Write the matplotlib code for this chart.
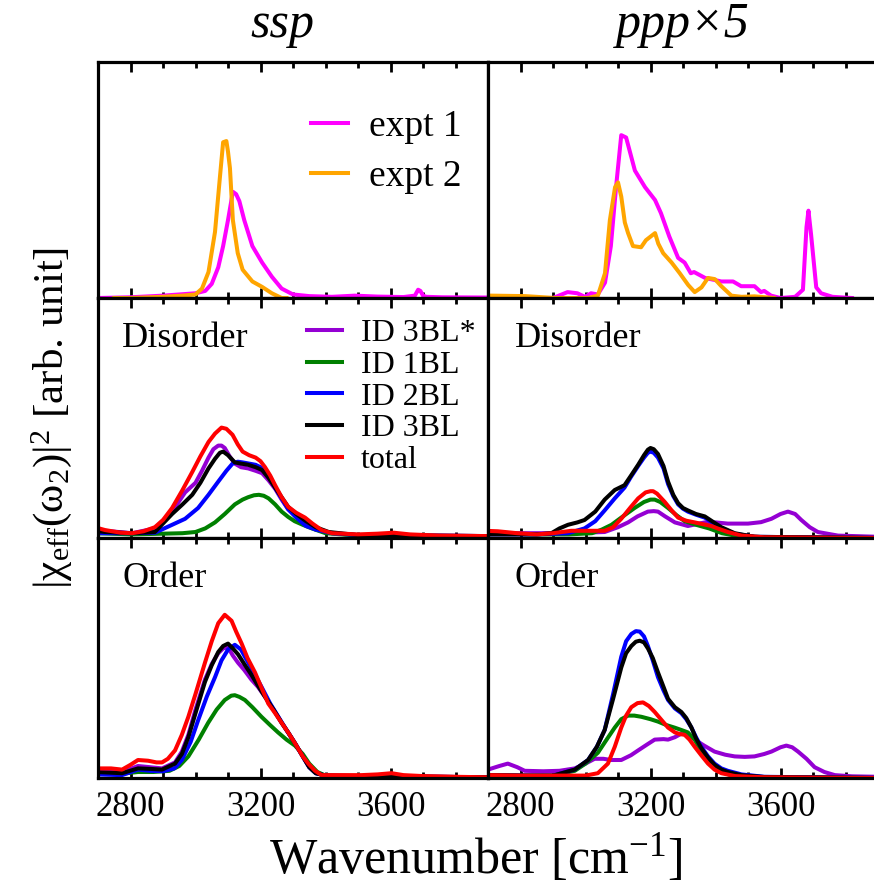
import matplotlib
matplotlib.use("Agg")
import matplotlib.pyplot as plt
from matplotlib.ticker import MultipleLocator

plt.rcParams['font.family'] = ['Liberation Serif', 'DejaVu Serif']
plt.rcParams['mathtext.fontset'] = 'custom'
plt.rcParams['mathtext.rm'] = 'Liberation Serif'
plt.rcParams['mathtext.it'] = 'Liberation Serif:italic'

# ---- experiment, ssp ----
ssp_exp1_x = [2700, 2800, 2900, 2950, 3000, 3030, 3050, 3070, 3085, 3100, 3115, 3125, 3135, 3150, 3175,
              3205, 3235, 3265, 3300, 3350, 3420, 3490, 3560, 3640, 3675, 3685, 3692, 3700, 3710, 3760, 3900]
ssp_exp1_y = [0.0, 0.003, 0.01, 0.015, 0.02, 0.03, 0.06, 0.13, 0.22, 0.33, 0.45, 0.44, 0.41, 0.33, 0.22,
              0.15, 0.09, 0.04, 0.015, 0.008, 0.005, 0.01, 0.006, 0.004, 0.01, 0.035, 0.03, 0.01, 0.005, 0.003, 0.002]
ssp_exp2_x = [2750, 2800, 2900, 2960, 3000, 3020, 3040, 3060, 3075, 3085, 3095, 3100, 3106, 3115, 3130,
              3145, 3175, 3205, 3235, 3265, 3280]
ssp_exp2_y = [0.0, 0.0, 0.005, 0.01, 0.015, 0.04, 0.11, 0.28, 0.51, 0.66, 0.665, 0.62, 0.55, 0.33, 0.19,
              0.12, 0.07, 0.047, 0.02, 0.0, 0.0]

# ---- experiment, ppp (x5) ----
ppp_exp1_x = [2880, 2900, 2945, 2975, 2998, 3017, 3038, 3060, 3078, 3094, 3110, 3125, 3152, 3183, 3214,
              3232, 3258, 3285, 3305, 3324, 3334, 3368, 3418, 3454, 3479, 3520, 3540, 3550, 3571, 3600,
              3645, 3669, 3680, 3686, 3694, 3710, 3725, 3760, 3820]
ppp_exp1_y = [0.0, 0.0, 0.025, 0.02, 0.005, 0.02, 0.015, 0.065, 0.22, 0.47, 0.69, 0.68, 0.54, 0.47, 0.415,
              0.36, 0.26, 0.17, 0.15, 0.105, 0.11, 0.085, 0.07, 0.07, 0.05, 0.05, 0.025, 0.03, 0.01, 0.0,
              0.005, 0.035, 0.3, 0.37, 0.27, 0.045, 0.02, 0.005, 0.0]
ppp_exp2_x = [2710, 2814, 2906, 3008, 3038, 3060, 3075, 3091, 3100, 3110, 3121, 3131, 3146, 3171, 3186,
              3214, 3224, 3239, 3265, 3290, 3316, 3336, 3357, 3377, 3398, 3418, 3449, 3480, 3520, 3580]
ppp_exp2_y = [0.01, 0.008, 0.0, 0.0, 0.01, 0.105, 0.33, 0.47, 0.49, 0.43, 0.32, 0.275, 0.22, 0.215, 0.245,
              0.275, 0.23, 0.19, 0.15, 0.105, 0.055, 0.025, 0.045, 0.085, 0.08, 0.05, 0.01, 0.005, 0.007, 0.0]

# ---- ssp, disorder ----
ssp_dis_3bls_x = [2690, 2722, 2805, 2875, 2928, 2968, 3000, 3020, 3040, 3055, 3070, 3080, 3090, 3105, 3121,
                  3140, 3162, 3185, 3205, 3225, 3245, 3265, 3285, 3310, 3337, 3370, 3420, 3500, 3900]
ssp_dis_3bls_y = [0.035, 0.03, 0.02, 0.04, 0.11, 0.19, 0.23, 0.28, 0.335, 0.37, 0.385, 0.385, 0.375, 0.34, 0.31,
                  0.295, 0.29, 0.28, 0.27, 0.24, 0.205, 0.16, 0.12, 0.09, 0.065, 0.035, 0.02, 0.012, 0.008]
ssp_dis_1bl_x = [2690, 2805, 2900, 2960, 3000, 3030, 3060, 3090, 3121, 3145, 3162, 3180, 3195, 3210, 3225,
                 3245, 3265, 3285, 3305, 3330, 3358, 3400, 3500, 3900]
ssp_dis_1bl_y = [0.02, 0.015, 0.018, 0.02, 0.025, 0.04, 0.065, 0.1, 0.14, 0.16, 0.17, 0.178, 0.18, 0.176, 0.165,
                 0.14, 0.11, 0.088, 0.07, 0.055, 0.04, 0.02, 0.01, 0.005]
ssp_dis_2bl_x = [2690, 2805, 2875, 2928, 2968, 3008, 3040, 3070, 3095, 3114, 3130, 3145, 3165, 3185, 3200,
                 3214, 3230, 3245, 3265, 3285, 3310, 3340, 3370, 3420, 3500, 3900]
ssp_dis_2bl_y = [0.02, 0.02, 0.022, 0.055, 0.08, 0.125, 0.18, 0.235, 0.28, 0.31, 0.318, 0.315, 0.31, 0.305, 0.295,
                 0.285, 0.25, 0.21, 0.165, 0.12, 0.085, 0.05, 0.035, 0.02, 0.012, 0.008]
ssp_dis_3bl_x = [2690, 2722, 2805, 2875, 2928, 2960, 2990, 3015, 3040, 3060, 3075, 3085, 3100, 3121, 3140,
                 3162, 3185, 3205, 3225, 3245, 3265, 3285, 3310, 3340, 3370, 3410, 3500, 3900]
ssp_dis_3bl_y = [0.03, 0.025, 0.02, 0.025, 0.1, 0.14, 0.18, 0.23, 0.29, 0.33, 0.355, 0.36, 0.345, 0.315, 0.31,
                 0.305, 0.295, 0.283, 0.25, 0.21, 0.17, 0.13, 0.1, 0.07, 0.045, 0.025, 0.012, 0.008]
ssp_dis_tot_x = [2690, 2722, 2770, 2805, 2840, 2875, 2900, 2928, 2960, 2990, 3015, 3040, 3060, 3080, 3095,
                 3114, 3130, 3145, 3165, 3185, 3200, 3214, 3230, 3245, 3265, 3285, 3310, 3337, 3360, 3388,
                 3420, 3500, 3560, 3610, 3660, 3750, 3900]
ssp_dis_tot_y = [0.045, 0.033, 0.022, 0.02, 0.028, 0.045, 0.075, 0.125, 0.2, 0.275, 0.34, 0.4, 0.435, 0.46, 0.455,
                 0.43, 0.39, 0.36, 0.345, 0.335, 0.32, 0.295, 0.26, 0.22, 0.17, 0.13, 0.105, 0.085, 0.06, 0.033,
                 0.02, 0.015, 0.018, 0.022, 0.015, 0.01, 0.008]

# ---- ppp, disorder ----
ppp_dis_3bls_x = [2700, 2850, 2950, 3059, 3100, 3131, 3160, 3192, 3210, 3223, 3245, 3275, 3315, 3367, 3400,
                  3438, 3500, 3540, 3572, 3600, 3623, 3645, 3664, 3690, 3715, 3777, 3900]
ppp_dis_3bls_y = [0.02, 0.02, 0.02, 0.025, 0.045, 0.065, 0.09, 0.11, 0.112, 0.11, 0.09, 0.065, 0.05, 0.065, 0.065,
                  0.06, 0.06, 0.066, 0.08, 0.1, 0.11, 0.1, 0.075, 0.045, 0.025, 0.01, 0.005]
ppp_dis_1bl_x = [2700, 2850, 2950, 3020, 3050, 3080, 3110, 3151, 3180, 3200, 3213, 3230, 3254, 3280, 3305,
                 3340, 3380, 3420, 3460, 3550, 3900]
ppp_dis_1bl_y = [0.02, 0.015, 0.015, 0.02, 0.035, 0.055, 0.085, 0.125, 0.15, 0.16, 0.16, 0.15, 0.125, 0.095, 0.07,
                 0.055, 0.04, 0.02, 0.01, 0.003, 0.0]
ppp_dis_2bl_x = [2700, 2850, 2946, 2997, 3030, 3059, 3090, 3120, 3140, 3162, 3180, 3192, 3200, 3210, 3223,
                 3240, 3254, 3270, 3285, 3300, 3315, 3340, 3367, 3395, 3418, 3459, 3520, 3900]
ppp_dis_2bl_y = [0.015, 0.015, 0.02, 0.04, 0.07, 0.115, 0.165, 0.21, 0.255, 0.3, 0.335, 0.355, 0.36, 0.355, 0.335,
                 0.29, 0.225, 0.175, 0.14, 0.122, 0.11, 0.097, 0.085, 0.06, 0.042, 0.018, 0.005, 0.0]
ppp_dis_3bl_x = [2700, 2760, 2850, 2895, 2920, 2946, 2975, 2997, 3030, 3059, 3090, 3120, 3140, 3162, 3180,
                 3192, 3200, 3210, 3223, 3240, 3254, 3270, 3285, 3300, 3315, 3340, 3367, 3395, 3418, 3459,
                 3520, 3900]
ppp_dis_3bl_y = [0.015, 0.015, 0.015, 0.02, 0.04, 0.055, 0.065, 0.075, 0.11, 0.16, 0.2, 0.22, 0.26, 0.305, 0.345,
                 0.368, 0.375, 0.37, 0.35, 0.3, 0.235, 0.18, 0.145, 0.125, 0.115, 0.1, 0.09, 0.065, 0.045, 0.02,
                 0.005, 0.0]
ppp_dis_tot_x = [2690, 2730, 2790, 2850, 2900, 2956, 3000, 3059, 3085, 3110, 3140, 3162, 3185, 3200, 3208,
                 3220, 3244, 3265, 3285, 3310, 3336, 3360, 3387, 3410, 3438, 3480, 3550, 3900]
ppp_dis_tot_y = [0.03, 0.028, 0.02, 0.015, 0.02, 0.03, 0.03, 0.03, 0.045, 0.08, 0.13, 0.165, 0.19, 0.195, 0.195,
                 0.185, 0.15, 0.115, 0.085, 0.072, 0.065, 0.058, 0.05, 0.038, 0.025, 0.01, 0.003, 0.0]

# ---- ssp, order ----
ssp_ord_x = [2690, 2774, 2823, 2860, 2897, 2937, 2958, 2978, 3000, 3029, 3050, 3070, 3085, 3100, 3115,
             3131, 3150, 3172, 3192, 3213, 3240, 3265, 3285, 3306, 3330, 3350, 3370, 3400, 3500, 3900]
ssp_ord_3bls_y = [0.03, 0.025, 0.05, 0.045, 0.04, 0.065, 0.11, 0.18, 0.285, 0.41, 0.475, 0.52, 0.54, 0.545, 0.51,
                  0.48, 0.45, 0.41, 0.38, 0.34, 0.285, 0.23, 0.19, 0.145, 0.09, 0.045, 0.02, 0.01, 0.008, 0.003]
ssp_ord_3bl_y = [0.025, 0.02, 0.04, 0.038, 0.035, 0.06, 0.1, 0.17, 0.27, 0.4, 0.47, 0.525, 0.55, 0.56, 0.54,
                 0.515, 0.475, 0.43, 0.385, 0.34, 0.285, 0.23, 0.19, 0.145, 0.09, 0.045, 0.02, 0.01, 0.008, 0.003]
ssp_ord_1bl_x = [2690, 2774, 2823, 2870, 2920, 2950, 2978, 3010, 3039, 3065, 3090, 3110, 3121, 3135, 3152,
                 3175, 3203, 3230, 3254, 3280, 3306, 3330, 3350, 3375, 3400, 3500, 3900]
ssp_ord_1bl_y = [0.02, 0.018, 0.025, 0.025, 0.03, 0.05, 0.09, 0.16, 0.23, 0.285, 0.325, 0.343, 0.345, 0.338, 0.325,
                 0.295, 0.255, 0.22, 0.19, 0.16, 0.135, 0.1, 0.06, 0.025, 0.01, 0.006, 0.002]
ssp_ord_2bl_x = [2690, 2774, 2823, 2860, 2900, 2935, 2958, 2985, 3008, 3035, 3060, 3080, 3100, 3121, 3140,
                 3152, 3175, 3203, 3230, 3255, 3280, 3306, 3330, 3350, 3370, 3400, 3500, 3900]
ssp_ord_2bl_y = [0.015, 0.012, 0.035, 0.03, 0.028, 0.04, 0.075, 0.15, 0.24, 0.34, 0.42, 0.49, 0.535, 0.555, 0.535,
                 0.505, 0.45, 0.38, 0.31, 0.255, 0.2, 0.145, 0.09, 0.045, 0.02, 0.01, 0.008, 0.003]
ssp_ord_tot_x = [2690, 2740, 2774, 2800, 2823, 2854, 2880, 2897, 2915, 2937, 2958, 2978, 3000, 3029, 3050,
                 3070, 3090, 3111, 3125, 3142, 3160, 3183, 3205, 3224, 3245, 3265, 3285, 3306, 3330, 3347,
                 3368, 3388, 3450, 3511, 3560, 3603, 3640, 3700, 3800, 3900]
ssp_ord_tot_y = [0.04, 0.04, 0.035, 0.055, 0.075, 0.072, 0.065, 0.065, 0.08, 0.115, 0.18, 0.255, 0.35, 0.48, 0.57,
                 0.645, 0.68, 0.655, 0.61, 0.56, 0.5, 0.44, 0.37, 0.31, 0.27, 0.23, 0.19, 0.145, 0.09, 0.06,
                 0.03, 0.012, 0.012, 0.012, 0.015, 0.02, 0.012, 0.008, 0.005, 0.003]

# ---- ppp, order ----
ppp_ord_3bls_x = [2700, 2735, 2761, 2790, 2813, 2870, 2920, 2967, 3000, 3028, 3055, 3079, 3110, 3140, 3162,
                  3190, 3213, 3240, 3254, 3275, 3295, 3315, 3336, 3365, 3397, 3430, 3459, 3490, 3520, 3550,
                  3572, 3600, 3618, 3636, 3654, 3680, 3705, 3735, 3767, 3820, 3900]
ppp_ord_3bls_y = [0.035, 0.05, 0.06, 0.045, 0.03, 0.028, 0.03, 0.04, 0.06, 0.08, 0.08, 0.075, 0.075, 0.095, 0.115,
                  0.14, 0.16, 0.162, 0.16, 0.17, 0.185, 0.18, 0.16, 0.135, 0.11, 0.097, 0.09, 0.088, 0.09, 0.1,
                  0.11, 0.128, 0.135, 0.128, 0.11, 0.08, 0.045, 0.025, 0.012, 0.007, 0.005]
ppp_ord_1bl_x = [2700, 2800, 2900, 2967, 3000, 3038, 3065, 3090, 3110, 3131, 3150, 3172, 3200, 3223, 3250,
                 3274, 3295, 3315, 3336, 3356, 3380, 3408, 3440, 3500, 3900]
ppp_ord_1bl_y = [0.012, 0.01, 0.01, 0.03, 0.06, 0.105, 0.16, 0.21, 0.245, 0.26, 0.26, 0.255, 0.245, 0.235, 0.22,
                 0.21, 0.2, 0.19, 0.16, 0.11, 0.07, 0.035, 0.015, 0.005, 0.0]
ppp_ord_x = [2700, 2800, 2900, 2967, 3008, 3035, 3059, 3085, 3110, 3125, 3141, 3155, 3167, 3180, 3192,
             3207, 3223, 3240, 3254, 3275, 3295, 3310, 3326, 3340, 3356, 3377, 3397, 3418, 3438, 3480,
             3550, 3900]
ppp_ord_2bl_y = [0.012, 0.01, 0.01, 0.035, 0.075, 0.13, 0.2, 0.35, 0.505, 0.57, 0.6, 0.612, 0.61, 0.59, 0.55,
                 0.49, 0.42, 0.365, 0.325, 0.29, 0.27, 0.245, 0.21, 0.17, 0.13, 0.09, 0.06, 0.04, 0.03, 0.015,
                 0.005, 0.0]
ppp_ord_3bl_y = [0.012, 0.01, 0.01, 0.035, 0.075, 0.13, 0.2, 0.33, 0.46, 0.52, 0.55, 0.568, 0.572, 0.565, 0.54,
                 0.5, 0.44, 0.38, 0.33, 0.295, 0.275, 0.25, 0.21, 0.165, 0.125, 0.085, 0.055, 0.035, 0.025, 0.012,
                 0.004, 0.0]
ppp_ord_tot_x = [2700, 2800, 2900, 3000, 3038, 3069, 3090, 3110, 3125, 3141, 3160, 3177, 3195, 3213, 3235,
                 3254, 3275, 3290, 3305, 3320, 3336, 3356, 3377, 3397, 3418, 3460, 3550, 3900]
ppp_ord_tot_y = [0.012, 0.01, 0.01, 0.01, 0.02, 0.06, 0.13, 0.21, 0.26, 0.295, 0.312, 0.315, 0.3, 0.275, 0.24,
                 0.21, 0.19, 0.183, 0.18, 0.16, 0.13, 0.095, 0.06, 0.035, 0.02, 0.008, 0.003, 0.0]

col_titles = ['ssp', 'ppp×5']
row_labels = [None, 'Disorder', 'Order']
exp_labels = ['expt 1', 'expt 2']
sim_labels = ['ID 3BL*', 'ID 1BL', 'ID 2BL', 'ID 3BL', 'total']

exp_colors = ['#ff00ff', '#ffa500']
sim_colors = ['#9400d3', '#008000', '#0000ff', '#000000', '#ff0000']

W, H = 874, 888
fig = plt.figure(figsize=(W / 100, H / 100), dpi=100)

col_left = [98, 488]
col_width = 390
row_top = [62, 298, 538]
row_bottom = [298, 538, 778]

axes = [[None, None], [None, None], [None, None]]
for r in range(3):
    for c in range(2):
        ax = fig.add_axes([col_left[c] / W, 1 - row_bottom[r] / H,
                           col_width / W, (row_bottom[r] - row_top[r]) / H])
        ax.set_xlim(2700, 3900)
        ax.set_ylim(0, 1)
        ax.xaxis.set_major_locator(MultipleLocator(400))
        ax.xaxis.set_minor_locator(MultipleLocator(100))
        ax.tick_params(axis='x', which='both', direction='in', top=True, bottom=True,
                       width=2.0, labelsize=25, pad=9)
        ax.tick_params(axis='x', which='major', length=7)
        ax.tick_params(axis='x', which='minor', length=4)
        ax.set_yticks([])
        if r < 2:
            ax.tick_params(axis='x', labelbottom=False)
        for s in ax.spines.values():
            s.set_linewidth(2.3)
        axes[r][c] = ax

lw = 2.9

# experiment row
for c, curves in enumerate([[(ssp_exp1_x, ssp_exp1_y), (ssp_exp2_x, ssp_exp2_y)],
                            [(ppp_exp1_x, ppp_exp1_y), (ppp_exp2_x, ppp_exp2_y)]]):
    ax = axes[0][c]
    for (x, y), col, lab in zip(curves, exp_colors, exp_labels):
        ax.plot(x, y, color=col, lw=lw, label=lab)

axes[0][0].legend(loc='upper left', bbox_to_anchor=(0.545, 0.80), frameon=False, fontsize=27,
                  handlelength=1.0, handletextpad=0.55, labelspacing=0.42, borderpad=0, borderaxespad=0)

# simulated rows
sim_sets = {
    (1, 0): [(ssp_dis_3bls_x, ssp_dis_3bls_y), (ssp_dis_1bl_x, ssp_dis_1bl_y), (ssp_dis_2bl_x, ssp_dis_2bl_y),
             (ssp_dis_3bl_x, ssp_dis_3bl_y), (ssp_dis_tot_x, ssp_dis_tot_y)],
    (1, 1): [(ppp_dis_3bls_x, ppp_dis_3bls_y), (ppp_dis_1bl_x, ppp_dis_1bl_y), (ppp_dis_2bl_x, ppp_dis_2bl_y),
             (ppp_dis_3bl_x, ppp_dis_3bl_y), (ppp_dis_tot_x, ppp_dis_tot_y)],
    (2, 0): [(ssp_ord_x, ssp_ord_3bls_y), (ssp_ord_1bl_x, ssp_ord_1bl_y), (ssp_ord_2bl_x, ssp_ord_2bl_y),
             (ssp_ord_x, ssp_ord_3bl_y), (ssp_ord_tot_x, ssp_ord_tot_y)],
    (2, 1): [(ppp_ord_3bls_x, ppp_ord_3bls_y), (ppp_ord_1bl_x, ppp_ord_1bl_y), (ppp_ord_x, ppp_ord_2bl_y),
             (ppp_ord_x, ppp_ord_3bl_y), (ppp_ord_tot_x, ppp_ord_tot_y)],
}
for (r, c), curves in sim_sets.items():
    ax = axes[r][c]
    for (x, y), col, lab in zip(curves, sim_colors, sim_labels):
        ax.plot(x, y, color=col, lw=lw, label=lab)
    ax.text(0.062 if c == 0 else 0.068, 0.795, row_labels[r], transform=ax.transAxes,
            fontsize=26, ha='left', va='baseline')

axes[1][0].legend(loc='upper left', bbox_to_anchor=(0.535, 0.912), frameon=False, fontsize=23,
                  handlelength=1.1, handletextpad=0.6, labelspacing=0.07, borderpad=0, borderaxespad=0)

# column titles
title_x = [282, 683]
for c, t in enumerate(col_titles):
    fig.text(title_x[c] / W, 1 - 37 / H, t, fontsize=36, style='italic',
             ha='center', va='baseline')

fig.text(476 / W, 1 - 858 / H, 'Wavenumber [cm$^{-1}$]', fontsize=36, ha='center', va='center')
fig.text(52 / W, 1 - 418 / H, r'|χ$_{\mathrm{eff}}$(ω$_{2}$)|$^{2}$ [arb. unit]', fontsize=31,
         rotation=90, ha='center', va='center')

fig.savefig('out.png', dpi=100)
